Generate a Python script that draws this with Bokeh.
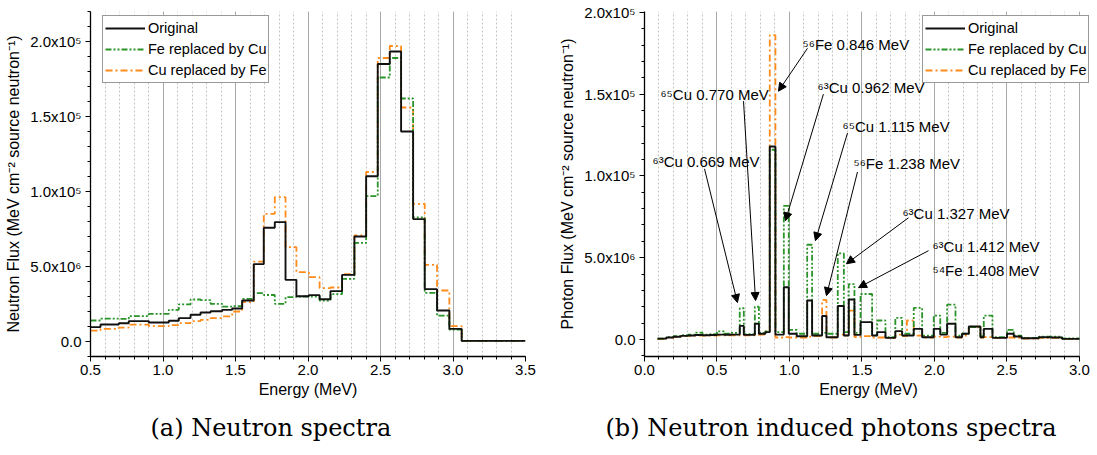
from bokeh.plotting import figure
from bokeh.models import (Range1d, Legend, LegendItem, Arrow, NormalHead, Label,
                          Title, SingleIntervalTicker, NumeralTickFormatter)
from bokeh.layouts import row
from bokeh.embed import file_html
from bokeh.resources import INLINE

# ---------------- data (flux values in units of 1e-6) ----------------
left_edges = [0.5, 0.569, 0.695, 0.764, 0.902, 1.04, 1.109, 1.19, 1.259, 1.328, 1.408,
              1.477, 1.546, 1.626, 1.695, 1.771, 1.845, 1.92, 2.006, 2.08, 2.155, 2.235,
              2.32, 2.401, 2.481, 2.564, 2.642, 2.725, 2.805, 2.89, 2.975, 3.06, 3.5]
left_original = [0.96, 1.13, 1.22, 1.36, 1.27, 1.38, 1.56, 1.78, 1.93, 2.02, 2.11, 2.2,
                 2.73, 5.16, 7.58, 7.96, 4.11, 3.02, 3.09, 2.82, 3.36, 4.44, 7.0, 11.02,
                 18.5, 19.33, 14.0, 8.16, 3.49, 2.07, 0.84, 0.04]
left_fe_by_cu = [1.4, 1.52, 1.51, 1.69, 1.84, 2.11, 2.47, 2.8, 2.76, 2.51, 2.33, 2.36,
                 2.84, 3.22, 3.1, 2.51, 2.96, 3.0, 3.0, 2.73, 3.16, 4.18, 6.58, 9.69,
                 17.6, 18.9, 16.2, 8.27, 3.24, 1.73, 0.8, 0.04]
left_cu_by_fe = [0.73, 0.84, 0.93, 1.13, 1.02, 1.09, 1.22, 1.36, 1.44, 1.56, 1.67, 2.0,
                 2.62, 5.33, 8.51, 9.62, 6.29, 4.62, 4.29, 3.56, 3.6, 4.49, 7.07, 11.3,
                 18.9, 19.7, 15.6, 9.18, 5.11, 3.4, 1.02, 0.04]

right_edges = [0.09, 0.15, 0.2, 0.25, 0.3, 0.35, 0.4, 0.45, 0.5, 0.55, 0.6, 0.657, 0.685,
               0.761, 0.789, 0.834, 0.864, 0.903, 0.961, 0.995, 1.05, 1.122, 1.156, 1.225,
               1.255, 1.333, 1.375, 1.409, 1.448, 1.49, 1.57, 1.605, 1.662, 1.73, 1.777,
               1.81, 1.857, 1.915, 1.995, 2.04, 2.087, 2.145, 2.19, 2.237, 2.317, 2.34,
               2.4, 2.5, 2.547, 2.6, 2.72, 2.8, 2.88, 3.0]
right_original = [0.05, 0.12, 0.17, 0.22, 0.24, 0.27, 0.26, 0.27, 0.3, 0.29, 0.3, 0.83,
                  0.28, 0.96, 0.35, 0.45, 11.8, 0.3, 3.19, 0.35, 0.2, 2.38, 0.24, 1.44,
                  0.14, 2.05, 0.24, 2.44, 0.28, 1.06, 0.24, 0.45, 0.1, 0.51, 0.24, 0.24,
                  0.65, 0.14, 0.65, 0.3, 0.96, 0.14, 0.35, 0.79, 0.14, 0.65, 0.1, 0.35,
                  0.18, 0.08, 0.14, 0.12, 0.04]
right_fe_by_cu = [0.05, 0.14, 0.2, 0.26, 0.3, 0.42, 0.3, 0.32, 0.5, 0.35, 0.4, 1.91,
                  0.33, 2.0, 0.4, 0.5, 11.6, 0.45, 8.17, 0.59, 0.35, 5.79, 0.35, 0.4,
                  0.35, 5.26, 0.45, 3.39, 0.4, 2.78, 0.25, 1.16, 0.14, 1.32, 0.35, 0.35,
                  1.93, 0.24, 1.46, 0.4, 2.13, 0.24, 0.35, 0.75, 0.2, 1.46, 0.14, 0.59,
                  0.24, 0.1, 0.18, 0.18, 0.06]
right_cu_by_fe = [0.03, 0.1, 0.15, 0.2, 0.22, 0.24, 0.23, 0.24, 0.25, 0.25, 0.25, 0.26,
                  0.26, 0.27, 0.3, 0.5, 18.6, 0.12, 0.15, 0.12, 0.12, 0.18, 0.2, 2.42,
                  0.12, 0.3, 0.25, 1.77, 0.15, 0.2, 0.12, 0.12, 0.1, 0.3, 0.2, 1.16,
                  0.24, 0.12, 0.18, 0.15, 0.18, 0.12, 0.24, 0.79, 0.12, 0.14, 0.1, 0.12,
                  0.1, 0.06, 0.1, 0.1, 0.04]

series_names = ["Original", "Fe replaced by Cu", "Cu replaced by Fe"]
y_tick_labels = {0: "0.0", 5: "5.0x10\u2076", 10: "1.0x10\u2075",
                 15: "1.5x10\u2075", 20: "2.0x10\u2075"}

# annotations: text, text (x, y), arrow start (x, y), arrow tip (x, y)
annotations = [
    ("\u2076\u00b3Cu 0.669 MeV", (0.055, 10.85), (0.414, 10.43), (0.641, 2.26)),
    ("\u2076\u2075Cu 0.770 MeV", (0.110, 15.0), (0.683, 14.57), (0.766, 2.38)),
    ("\u2075\u2076Fe 0.846 MeV", (1.090, 18.05), (1.124, 17.8), (0.924, 15.18)),
    ("\u2076\u00b3Cu 0.962 MeV", (1.193, 15.43), (1.234, 15.0), (0.972, 7.26)),
    ("\u2076\u2075Cu 1.115 MeV", (1.366, 13.05), (1.40, 12.62), (1.179, 6.04)),
    ("\u2075\u2076Fe 1.238 MeV", (1.441, 10.73), (1.469, 10.24), (1.255, 2.68)),
    ("\u2076\u00b3Cu 1.327 MeV", (1.779, 7.68), (1.821, 7.44), (1.393, 4.63)),
    ("\u2076\u00b3Cu 1.412 MeV", (1.986, 5.67), (1.959, 5.43), (1.476, 3.17)),
    ("\u2075\u2074Fe 1.408 MeV", (1.986, 4.21), None, None),
]

FONT = "Liberation Sans"
BLACK = "#111111"
GREEN = "#2a942a"
ORANGE = "#ff8c1a"


def make_fig(width, border_left, border_right, xr, axis_end, yr, ylabel, caption, cap_offset):
    p = figure(width=width, height=455, output_backend="svg", toolbar_location=None,
               x_range=Range1d(*xr), y_range=Range1d(*yr),
               min_border_left=border_left, min_border_right=border_right,
               min_border_top=11, min_border_bottom=99)
    p.outline_line_color = None
    p.background_fill_color = "white"
    p.border_fill_color = "white"
    p.xaxis.ticker = SingleIntervalTicker(interval=0.5, num_minor_ticks=5)
    p.yaxis.ticker = SingleIntervalTicker(interval=5, num_minor_ticks=5)
    p.xaxis.formatter = NumeralTickFormatter(format="0.0")
    p.xaxis.bounds = (xr[0], axis_end)
    p.yaxis.major_label_overrides = y_tick_labels
    for ax in (p.xaxis, p.yaxis):
        ax.axis_line_color = "black"
        ax.axis_line_width = 1.3
        ax.major_tick_line_color = "black"
        ax.minor_tick_line_color = "black"
        ax.major_tick_out = 5
        ax.major_tick_in = 0
        ax.minor_tick_out = 3
        ax.minor_tick_in = 0
        ax.major_label_text_font = FONT
        ax.major_label_text_font_size = "15px"
        ax.major_label_text_color = "black"
        ax.axis_label_text_font = FONT
        ax.axis_label_text_font_size = "16px"
        ax.axis_label_text_font_style = "normal"
        ax.axis_label_text_color = "black"
    p.xaxis.major_label_standoff = 3
    p.xaxis.axis_label_standoff = 3
    p.yaxis.major_label_standoff = 4
    p.yaxis.axis_label_standoff = 5
    p.xaxis.axis_label = "Energy (MeV)"
    p.yaxis.axis_label = ylabel
    p.ygrid.visible = False
    p.xgrid.grid_line_color = "#a8a8a8"
    p.xgrid.grid_line_width = 1
    p.xgrid.minor_grid_line_color = "#c4c4c4"
    p.xgrid.minor_grid_line_dash = "2 2"
    p.xgrid.minor_grid_line_width = 1
    t = Title(text=caption, align="left", text_font="DejaVu Serif",
              text_font_size="24px", text_font_style="normal", text_color="black",
              offset=cap_offset, standoff=23)
    p.add_layout(t, "below")
    return p


def draw_series(p, edges, orig, fe_cu, cu_fe, legend_loc):
    r_cf = p.step(edges, cu_fe + [cu_fe[-1]], mode="after", line_color=ORANGE,
                  line_width=1.8, line_dash="7 3 2 3")
    r_fc = p.step(edges, fe_cu + [fe_cu[-1]], mode="after", line_color=GREEN,
                  line_width=1.8, line_dash="6 2 2 2 2 2")
    r_o = p.step(edges, orig + [orig[-1]], mode="after", line_color=BLACK,
                 line_width=1.9)
    legend = Legend(items=[LegendItem(label=series_names[0], renderers=[r_o]),
                           LegendItem(label=series_names[1], renderers=[r_fc]),
                           LegendItem(label=series_names[2], renderers=[r_cf])],
                    location=legend_loc)
    legend.border_line_color = "#333333"
    legend.border_line_width = 1.2
    legend.background_fill_alpha = 1
    legend.label_text_font = FONT
    legend.label_text_font_size = "14.5px"
    legend.label_text_color = "black"
    legend.glyph_width = 40
    legend.glyph_height = 20
    legend.label_height = 20
    legend.label_standoff = 3
    legend.padding = 2
    legend.spacing = 1
    legend.margin = 0
    p.add_layout(legend)


p1 = make_fig(548, 90, 23, (0.5, 3.5), 3.5, (-1.0, 22.0),
              "Neutron Flux (MeV cm\u207b\u00b2 source neutron\u207b\u00b9)",
              "(a) Neutron spectra", 60)
draw_series(p1, left_edges, left_original, left_fe_by_cu, left_cu_by_fe, (12, 273))

p2 = make_fig(549, 96, 5, (0.0, 3.09), 3.0, (-1.04, 20.05),
              "Photon Flux (MeV cm\u207b\u00b2 source neutron\u207b\u00b9)",
              "(b) Neutron induced photons spectra", -39)
draw_series(p2, right_edges, right_original, right_fe_by_cu, right_cu_by_fe, (278, 273))

for text, (tx, ty), start, tip in annotations:
    p2.add_layout(Label(x=tx, y=ty, text=text, text_font=FONT, text_font_size="15px",
                        text_baseline="middle", text_align="left", text_color="black"))
    if start is not None:
        p2.add_layout(Arrow(end=NormalHead(size=8, fill_color="black", line_color="black"),
                            x_start=start[0], y_start=start[1], x_end=tip[0], y_end=tip[1],
                            line_color="black", line_width=1))

layout = row(p1, p2)
open("out.html", "w").write(file_html(layout, INLINE))
